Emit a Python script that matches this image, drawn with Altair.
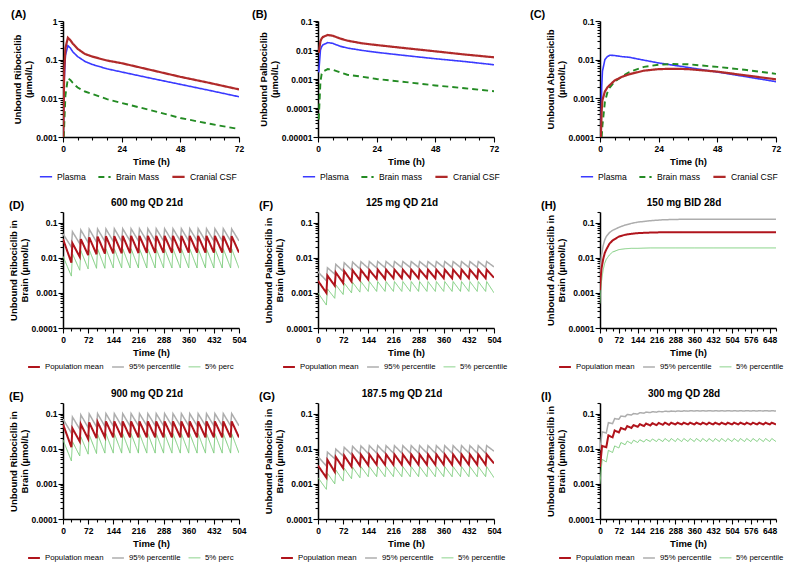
import altair as alt
import pandas as pd

FONT = "Liberation Sans"

# ---------------- data: single dose panels (A-C) ----------------
A_t = [0, 0.5, 1, 2, 3, 4, 6, 9, 12, 18, 24, 36, 48, 60, 72]
A_plasma = [0.0005, 0.03, 0.13, 0.23, 0.2, 0.16, 0.12, 0.09, 0.075, 0.058, 0.048, 0.033, 0.023, 0.016, 0.011]
A_brain = [0.0003, 0.002, 0.012, 0.033, 0.03, 0.025, 0.019, 0.015, 0.013, 0.0095, 0.0076, 0.0049, 0.0031, 0.0022, 0.0016]
A_csf = [0.0005, 0.05, 0.2, 0.37, 0.32, 0.26, 0.19, 0.14, 0.12, 0.095, 0.081, 0.054, 0.036, 0.025, 0.017]

B_t = [0.3, 1, 1.5, 2, 4, 6, 9, 12, 18, 24, 36, 48, 60, 72]
B_plasma = [0.0017, 0.01, 0.013, 0.015, 0.018, 0.017, 0.0135, 0.0117, 0.0097, 0.0083, 0.0064, 0.005, 0.004, 0.0031]
B_brain = [0.00004, 0.0008, 0.0015, 0.0018, 0.0022, 0.0021, 0.0017, 0.0014, 0.0012, 0.001, 0.00078, 0.0006, 0.00048, 0.00038]
B_csf = [0.008, 0.02, 0.025, 0.028, 0.033, 0.031, 0.025, 0.021, 0.017, 0.0148, 0.0115, 0.009, 0.007, 0.0056]

C_t = [0.3, 0.7, 1, 2, 3, 4, 6, 9, 12, 18, 24, 30, 36, 48, 60, 72]
C_plasma = [0.00005, 0.002, 0.005, 0.01, 0.012, 0.013, 0.0128, 0.012, 0.0115, 0.0097, 0.0082, 0.0072, 0.0063, 0.0048, 0.0036, 0.0027]
C_brain = [0.00003, 0.0001, 0.0002, 0.0008, 0.0014, 0.0019, 0.0027, 0.0037, 0.0048, 0.0065, 0.0074, 0.0077, 0.0076, 0.0065, 0.0054, 0.0043]
C_csf = [0.00008, 0.0005, 0.0009, 0.0015, 0.0019, 0.0022, 0.0029, 0.0036, 0.0042, 0.0052, 0.0057, 0.0058, 0.0057, 0.0049, 0.0039, 0.0031]

# ---------------- data: repeated dose panels (peaks / troughs per dose) ----------------
D_mean_peak = [0.034, 0.026, 0.034, 0.038, 0.040, 0.041, 0.041, 0.042, 0.042, 0.042, 0.042, 0.042, 0.042, 0.042, 0.042, 0.042, 0.042, 0.042, 0.042, 0.042, 0.041]
D_mean_trough = [0.0072, 0.0105, 0.0118, 0.0125, 0.013, 0.0132, 0.0134, 0.0135, 0.0136, 0.0137, 0.0137, 0.0138, 0.0138, 0.0138, 0.0139, 0.0139, 0.0139, 0.014, 0.014, 0.014, 0.014]
D_p95_peak = [0.048, 0.055, 0.062, 0.065, 0.066, 0.066, 0.067, 0.067, 0.067, 0.067, 0.067, 0.067, 0.067, 0.067, 0.067, 0.067, 0.067, 0.067, 0.067, 0.067, 0.066]
D_p95_trough = [0.02, 0.025, 0.027, 0.028, 0.029, 0.029, 0.029, 0.03, 0.03, 0.03, 0.03, 0.03, 0.03, 0.03, 0.03, 0.03, 0.03, 0.03, 0.03, 0.03, 0.03]
D_p5_peak = [0.011, 0.013, 0.016, 0.017, 0.018, 0.018, 0.018, 0.018, 0.018, 0.018, 0.018, 0.018, 0.018, 0.018, 0.018, 0.018, 0.018, 0.018, 0.018, 0.018, 0.018]
D_p5_trough = [0.003, 0.0044, 0.0048, 0.005, 0.005, 0.0051, 0.0051, 0.0051, 0.0051, 0.0051, 0.0051, 0.0051, 0.0051, 0.0051, 0.0051, 0.0051, 0.0051, 0.0051, 0.0051, 0.0051, 0.005]

E_mean_peak = [0.05, 0.038, 0.05, 0.056, 0.058, 0.06, 0.06, 0.06, 0.06, 0.06, 0.06, 0.06, 0.06, 0.06, 0.06, 0.06, 0.06, 0.06, 0.06, 0.06, 0.06]
E_mean_trough = [0.011, 0.016, 0.019, 0.02, 0.021, 0.021, 0.021, 0.021, 0.021, 0.021, 0.021, 0.021, 0.021, 0.021, 0.021, 0.021, 0.021, 0.021, 0.021, 0.021, 0.021]
E_p95_peak = [0.07, 0.08, 0.092, 0.098, 0.1, 0.1, 0.1, 0.1, 0.1, 0.1, 0.1, 0.1, 0.1, 0.1, 0.1, 0.1, 0.1, 0.1, 0.1, 0.1, 0.1]
E_p95_trough = [0.028, 0.036, 0.04, 0.042, 0.043, 0.044, 0.044, 0.044, 0.045, 0.045, 0.045, 0.045, 0.045, 0.045, 0.045, 0.045, 0.045, 0.045, 0.045, 0.045, 0.045]
E_p5_peak = [0.018, 0.016, 0.022, 0.025, 0.026, 0.027, 0.027, 0.027, 0.027, 0.027, 0.027, 0.027, 0.027, 0.027, 0.027, 0.027, 0.027, 0.027, 0.027, 0.027, 0.027]
E_p5_trough = [0.0045, 0.0062, 0.007, 0.0073, 0.0075, 0.0075, 0.0075, 0.0075, 0.0075, 0.0075, 0.0075, 0.0075, 0.0075, 0.0075, 0.0075, 0.0075, 0.0075, 0.0075, 0.0075, 0.0075, 0.0075]

F_mean_peak = [0.0022, 0.0031, 0.0038, 0.0042, 0.0044, 0.0045, 0.0045, 0.0046, 0.0046, 0.0046, 0.0046, 0.0046, 0.0046, 0.0046, 0.0046, 0.0046, 0.0046, 0.0046, 0.0046, 0.0046, 0.0046]
F_mean_trough = [0.001, 0.0016, 0.0019, 0.0021, 0.0023, 0.0024, 0.0025, 0.0025, 0.0026, 0.0026, 0.0026, 0.0026, 0.0026, 0.0026, 0.0026, 0.0026, 0.0026, 0.0026, 0.0026, 0.0026, 0.0027]
F_p95_peak = [0.004, 0.0052, 0.0065, 0.0072, 0.0075, 0.0077, 0.0078, 0.0078, 0.0078, 0.0078, 0.0078, 0.0078, 0.0078, 0.0078, 0.0078, 0.0078, 0.0078, 0.0078, 0.0078, 0.0078, 0.0078]
F_p95_trough = [0.0022, 0.0034, 0.0041, 0.0045, 0.0048, 0.005, 0.0051, 0.0052, 0.0052, 0.0053, 0.0053, 0.0053, 0.0053, 0.0053, 0.0053, 0.0053, 0.0053, 0.0053, 0.0053, 0.0053, 0.0055]
F_p5_peak = [0.001, 0.0013, 0.0017, 0.0019, 0.002, 0.0021, 0.0021, 0.0021, 0.0021, 0.0021, 0.0021, 0.0021, 0.0021, 0.0021, 0.0021, 0.0021, 0.0021, 0.0021, 0.0021, 0.0021, 0.0021]
F_p5_trough = [0.00045, 0.0007, 0.0009, 0.001, 0.00105, 0.0011, 0.0011, 0.0011, 0.0011, 0.0011, 0.0011, 0.0011, 0.0011, 0.0011, 0.0011, 0.0011, 0.0011, 0.0011, 0.0011, 0.0011, 0.001]

G_mean_peak = [0.0033, 0.0048, 0.0058, 0.0064, 0.0067, 0.0068, 0.0069, 0.0069, 0.0069, 0.0069, 0.0069, 0.0069, 0.0069, 0.0069, 0.0069, 0.0069, 0.0069, 0.0069, 0.0069, 0.0069, 0.0069]
G_mean_trough = [0.0015, 0.0022, 0.0028, 0.0031, 0.0033, 0.0034, 0.0035, 0.0035, 0.0035, 0.0035, 0.0035, 0.0035, 0.0035, 0.0035, 0.0035, 0.0035, 0.0035, 0.0035, 0.0035, 0.0035, 0.0038]
G_p95_peak = [0.006, 0.008, 0.0098, 0.011, 0.0117, 0.012, 0.0122, 0.0122, 0.0122, 0.0122, 0.0122, 0.0122, 0.0122, 0.0122, 0.0122, 0.0122, 0.0122, 0.0122, 0.0122, 0.0122, 0.0122]
G_p95_trough = [0.0032, 0.0052, 0.0062, 0.0068, 0.0071, 0.0073, 0.0075, 0.0075, 0.0075, 0.0075, 0.0075, 0.0075, 0.0075, 0.0075, 0.0075, 0.0075, 0.0075, 0.0075, 0.0075, 0.0075, 0.0085]
G_p5_peak = [0.0015, 0.002, 0.0025, 0.0028, 0.003, 0.0031, 0.0031, 0.0031, 0.0031, 0.0031, 0.0031, 0.0031, 0.0031, 0.0031, 0.0031, 0.0031, 0.0031, 0.0031, 0.0031, 0.0031, 0.0031]
G_p5_trough = [0.0007, 0.001, 0.0012, 0.0014, 0.0015, 0.0016, 0.0016, 0.0016, 0.0016, 0.0016, 0.0016, 0.0016, 0.0016, 0.0016, 0.0016, 0.0016, 0.0016, 0.0016, 0.0016, 0.0016, 0.0015]

H_t = [0, 3, 6, 12, 18, 24, 36, 48, 72, 96, 120, 144, 192, 240, 288, 360, 432, 504, 576, 672]
H_mean = [0.0012, 0.003, 0.005, 0.009, 0.0135, 0.017, 0.025, 0.031, 0.040, 0.045, 0.048, 0.050, 0.052, 0.053, 0.053, 0.053, 0.053, 0.053, 0.053, 0.053]
H_p95 = [0.0025, 0.007, 0.012, 0.022, 0.032, 0.040, 0.052, 0.060, 0.073, 0.085, 0.095, 0.103, 0.113, 0.120, 0.123, 0.125, 0.125, 0.125, 0.125, 0.125]
H_p5 = [0.0005, 0.0012, 0.0022, 0.0045, 0.007, 0.009, 0.012, 0.0145, 0.017, 0.018, 0.0185, 0.0185, 0.019, 0.019, 0.019, 0.019, 0.019, 0.019, 0.019, 0.019]

I_start = {"mean": 0.003, "p95": 0.009, "p5": 0.001}
I_mean_peak = [0.012, 0.024, 0.033, 0.039, 0.044, 0.047, 0.050, 0.052, 0.053, 0.054, 0.055, 0.055, 0.055, 0.055, 0.055, 0.055, 0.055, 0.055, 0.055, 0.055, 0.055, 0.055, 0.055, 0.055, 0.055, 0.055, 0.055, 0.055]
I_mean_trough = [0.011, 0.021, 0.029, 0.035, 0.039, 0.042, 0.044, 0.046, 0.047, 0.048, 0.048, 0.049, 0.049, 0.049, 0.049, 0.049, 0.049, 0.049, 0.049, 0.049, 0.049, 0.049, 0.049, 0.049, 0.049, 0.049, 0.049, 0.049]
I_p95_peak = [0.030, 0.055, 0.072, 0.085, 0.094, 0.100, 0.106, 0.110, 0.113, 0.115, 0.117, 0.118, 0.119, 0.120, 0.121, 0.121, 0.121, 0.121, 0.121, 0.121, 0.121, 0.121, 0.121, 0.121, 0.121, 0.121, 0.121, 0.121]
I_p95_trough = [0.028, 0.052, 0.069, 0.082, 0.091, 0.097, 0.103, 0.107, 0.110, 0.112, 0.114, 0.115, 0.116, 0.117, 0.118, 0.118, 0.118, 0.118, 0.118, 0.118, 0.118, 0.118, 0.118, 0.118, 0.118, 0.118, 0.118, 0.118]
I_p5_peak = [0.005, 0.009, 0.012, 0.015, 0.0165, 0.0175, 0.018, 0.0185, 0.019, 0.019, 0.0195, 0.0195, 0.0195, 0.0195, 0.0195, 0.0195, 0.0195, 0.0195, 0.0195, 0.0195, 0.0195, 0.0195, 0.0195, 0.0195, 0.0195, 0.0195, 0.0195, 0.0195]
I_p5_trough = [0.0042, 0.0078, 0.0105, 0.013, 0.014, 0.015, 0.0155, 0.016, 0.016, 0.016, 0.016, 0.016, 0.016, 0.016, 0.016, 0.016, 0.016, 0.016, 0.016, 0.016, 0.016, 0.016, 0.016, 0.016, 0.016, 0.016, 0.016, 0.016]

SD_NAMES_A = ["Plasma", "Brain Mass", "Cranial CSF"]
SD_NAMES = ["Plasma", "Brain mass", "Cranial CSF"]
MD_NAMES = ["Population mean", "95% percentile", "5% percentile"]

# ---------------- helpers ----------------
H = 116
W = 176


def sawtooth(peaks, troughs, start=None, rise=3):
    pts = []
    if start is not None:
        pts.append((0, start))
    for k, (p, tr) in enumerate(zip(peaks, troughs)):
        tp = 24 * k + rise if (k > 0 or start is not None) else 0
        pts.append((tp, p))
        pts.append((24 * (k + 1), tr))
    return pts


def frame(series):
    rows = []
    for name, pts in series:
        for t, v in pts:
            rows.append({"t": t, "v": v, "s": name})
    return pd.DataFrame(rows)


def log_ticks(lo, hi, top):
    vals = []
    for e in range(lo, hi + 1):
        for m in range(1, 10):
            val = round(m * 10.0 ** e, 12)
            if val <= top * 1.0001:
                vals.append(val)
    return vals


DECADE = "abs(log(datum.value)/LN10 - round(log(datum.value)/LN10)) < 0.001"


def panel(df, order, colors, dashes, widths, xdom, xstep, xmajor, ydom, ylo, yhi,
          ytitle, letter, letter_x, legend_x, title=None, label_fs=7.8, col_pad=5,
          label_expr=None, sym=140):
    major_x = f"datum.value % {xmajor} == 0"
    xvals = list(range(xdom[0], xdom[1] + 1, xstep))
    yvals = log_ticks(ylo, yhi, ydom[1])
    leg_kw = dict(orient="none", legendX=legend_x, legendY=H + 32, direction="horizontal",
                  title=None, labelFont=FONT, labelFontSize=label_fs, labelColor="black",
                  symbolSize=sym, symbolType="stroke", labelOffset=4, columnPadding=col_pad)
    if label_expr:
        leg_kw["labelExpr"] = label_expr
    leg = alt.Legend(**leg_kw)
    lines = alt.Chart(df).mark_line(clip=True).encode(
        x=alt.X("t:Q", scale=alt.Scale(domain=xdom, nice=False, zero=False),
                axis=alt.Axis(values=xvals, title="Time (h)",
                              labelExpr=f"{major_x} ? datum.label : ''",
                              tickSize={"condition": {"test": major_x, "value": 5}, "value": 3},
                              labelOverlap=False, labelFlush=False, labelFontSize=8.5,
                              labelFontWeight="bold", labelPadding=2, titleFontSize=9.5,
                              titleFontWeight="bold", titlePadding=4)),
        y=alt.Y("v:Q", scale=alt.Scale(type="log", domain=ydom, nice=False),
                axis=alt.Axis(values=yvals, title=ytitle,
                              labelExpr=f"{DECADE} ? format(datum.value, '.6~f') : ''",
                              tickSize={"condition": {"test": DECADE, "value": 5}, "value": 3},
                              labelOverlap=False, labelFontSize=8.5, labelFontWeight="bold",
                              labelPadding=1, titleFontSize=9.5, titleFontWeight="bold",
                              titleLineHeight=11, titlePadding=2)),
        color=alt.Color("s:N", scale=alt.Scale(domain=order, range=colors), legend=leg),
        strokeDash=alt.StrokeDash("s:N", scale=alt.Scale(domain=order, range=dashes), legend=leg),
        strokeWidth=alt.StrokeWidth("s:N", scale=alt.Scale(domain=order, range=widths), legend=leg),
    )
    layers = [lines,
              alt.Chart(alt.Data(values=[{"lab": letter}])).mark_text(
                  align="left", baseline="alphabetic", fontSize=11, fontWeight="bold",
                  font=FONT, color="black").encode(text="lab:N", x=alt.value(letter_x), y=alt.value(-3))]
    if title:
        layers.append(alt.Chart(alt.Data(values=[{"ttl": title}])).mark_text(
            align="center", baseline="alphabetic", fontSize=10, fontWeight="bold",
            font=FONT, color="black").encode(text="ttl:N", x=alt.value(W / 2 - 4), y=alt.value(-6)))
    return alt.layer(*layers).properties(width=W, height=H)


def spacer(w, anchor=None):
    pos = anchor if anchor else (0, H / 2)
    return alt.Chart(alt.Data(values=[{"a": 1}])).mark_point(opacity=0, size=1).encode(
        x=alt.value(pos[0]), y=alt.value(pos[1])).properties(width=w, height=H)


SD_COLORS = ["#3a3aff", "#238b23", "#b02a2a"]
SD_DASH = [[1, 0], [6, 4], [1, 0]]
SD_W = [1.6, 2.2, 1.6]
MD_COLORS = ["#b0141c", "#adadad", "#7ccd7c"]
MD_DASH = [[1, 0], [1, 0], [1, 0]]
MD_W = [2.0, 1.0, 1.0]
CUT = "datum.label == '5% percentile' ? '5% perc' : datum.label"

# ---------- build panels ----------
dfA = frame([("Plasma", zip(A_t, A_plasma)), ("Brain Mass", zip(A_t, A_brain)), ("Cranial CSF", zip(A_t, A_csf))])
dfB = frame([("Plasma", zip(B_t, B_plasma)), ("Brain mass", zip(B_t, B_brain)), ("Cranial CSF", zip(B_t, B_csf))])
dfC = frame([("Plasma", zip(C_t, C_plasma)), ("Brain mass", zip(C_t, C_brain)), ("Cranial CSF", zip(C_t, C_csf))])


def md_frame(p95, p5, mean):
    return frame([("95% percentile", p95), ("5% percentile", p5), ("Population mean", mean)])


dfD = md_frame(sawtooth(D_p95_peak, D_p95_trough), sawtooth(D_p5_peak, D_p5_trough), sawtooth(D_mean_peak, D_mean_trough))
dfE = md_frame(sawtooth(E_p95_peak, E_p95_trough), sawtooth(E_p5_peak, E_p5_trough), sawtooth(E_mean_peak, E_mean_trough))
dfF = md_frame(sawtooth(F_p95_peak, F_p95_trough), sawtooth(F_p5_peak, F_p5_trough), sawtooth(F_mean_peak, F_mean_trough))
dfG = md_frame(sawtooth(G_p95_peak, G_p95_trough), sawtooth(G_p5_peak, G_p5_trough), sawtooth(G_mean_peak, G_mean_trough))
dfH = md_frame(list(zip(H_t, H_p95)), list(zip(H_t, H_p5)), list(zip(H_t, H_mean)))
dfI = md_frame(sawtooth(I_p95_peak, I_p95_trough, I_start["p95"], 8),
               sawtooth(I_p5_peak, I_p5_trough, I_start["p5"], 8),
               sawtooth(I_mean_peak, I_mean_trough, I_start["mean"], 8))

SD_KW = dict(label_fs=8.6, col_pad=8, sym=150)
pA = panel(dfA, SD_NAMES_A, SD_COLORS, SD_DASH, SD_W, [0, 72], 6, 24, [0.001, 1], -3, 0,
           ["Unbound Ribociclib", "(µmol/L)"], "(A)", -52, -24, **SD_KW)
pB = panel(dfB, SD_NAMES, SD_COLORS, SD_DASH, SD_W, [0, 72], 6, 24, [0.00001, 0.1], -5, -1,
           ["Unbound Palbociclib", "(µmol/L)"], "(B)", -66, -16, **SD_KW)
pC = panel(dfC, SD_NAMES, SD_COLORS, SD_DASH, SD_W, [0, 72], 6, 24, [0.0001, 0.1], -4, -1,
           ["Unbound Abemaciclib", "(µmol/L)"], "(C)", -70, -20, **SD_KW)

pD = panel(dfD, MD_NAMES, MD_COLORS, MD_DASH, MD_W, [0, 504], 24, 72, [0.0001, 0.2], -4, -1,
           ["Unbound Ribociclib in", "Brain (µmol/L)"], "(D)", -54, -36, title="600 mg QD 21d",
           label_expr=CUT)
pF = panel(dfF, MD_NAMES, MD_COLORS, MD_DASH, MD_W, [0, 504], 24, 72, [0.0001, 0.2], -4, -1,
           ["Unbound Palbociclib in", "Brain (µmol/L)"], "(F)", -59, -36, title="125 mg QD 21d")
pH = panel(dfH, MD_NAMES, MD_COLORS, MD_DASH, MD_W, [0, 672], 24, 72, [0.0001, 0.2], -4, -1,
           ["Unbound Abemaciclib in", "Brain (µmol/L)"], "(H)", -59, -42, title="150 mg BID 28d")
pE = panel(dfE, MD_NAMES, MD_COLORS, MD_DASH, MD_W, [0, 504], 24, 72, [0.0001, 0.2], -4, -1,
           ["Unbound Ribociclib in", "Brain (µmol/L)"], "(E)", -54, -36, title="900 mg QD 21d",
           label_expr=CUT)
pG = panel(dfG, MD_NAMES, MD_COLORS, MD_DASH, MD_W, [0, 504], 24, 72, [0.0001, 0.2], -4, -1,
           ["Unbound Palbociclib in", "Brain (µmol/L)"], "(G)", -59, -38, title="187.5 mg QD 21d")
pI = panel(dfI, MD_NAMES, MD_COLORS, MD_DASH, MD_W, [0, 672], 24, 72, [0.0001, 0.2], -4, -1,
           ["Unbound Abemaciclib in", "Brain (µmol/L)"], "(I)", -59, -42, title="300 mg QD 28d")

cells = [
    spacer(1, anchor=(-52, -12)), pA, spacer(79), pB, spacer(106), pC,
    spacer(1), pD, spacer(79), pF, spacer(106), pH,
    spacer(1), pE, spacer(79), pG, spacer(106), pI,
]

chart = alt.concat(*cells, columns=6, bounds="flush",
                   spacing={"row": 75, "column": 0}).properties(
    padding={"left": 0, "top": 0, "right": 0, "bottom": 0}
).configure(font=FONT).configure_view(stroke=None).configure_axis(
    domainColor="black", domainWidth=1.5, tickColor="black", tickWidth=1.1, labelColor="black",
    titleColor="black", grid=False, labelFont=FONT, titleFont=FONT
).resolve_scale(color="independent", strokeDash="independent", strokeWidth="independent")

chart.save("out.html", embed_options={"renderer": "svg", "actions": False})
